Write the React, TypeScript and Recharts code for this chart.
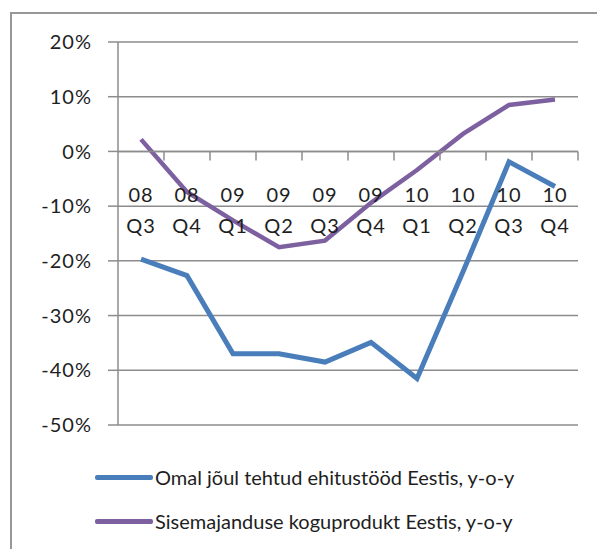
import { LineChart, Line, XAxis, YAxis, CartesianGrid, ReferenceLine } from "recharts";

const years = ["08", "08", "09", "09", "09", "09", "10", "10", "10", "10"];
const quarters = ["Q3", "Q4", "Q1", "Q2", "Q3", "Q4", "Q1", "Q2", "Q3", "Q4"];

// y-o-y change, %
const construction = [-19.7, -22.7, -37.0, -37.0, -38.5, -34.9, -41.5, -22.0, -1.9, -6.4];
const gdp = [2.2, -7.4, -12.6, -17.5, -16.3, -9.4, -3.4, 3.2, 8.5, 9.5];

const yTicks = [-50, -40, -30, -20, -10, 0, 10, 20];

const seriesNames = [
  "Omal jõul tehtud ehitustööd Eestis, y-o-y",
  "Sisemajanduse koguprodukt Eestis, y-o-y",
];
const seriesColors = ["#4a7ebb", "#7d60a0"];

const data = years.map((y, i) => ({
  period: `${y} ${quarters[i]}`,
  construction: construction[i],
  gdp: gdp[i],
}));

const FONT = "Lato, 'Open Sans', sans-serif";
const GRID = "#8c8c8c";
const TEXT = "#1e1e1e";

// category axis drawn along the 0% line, with marks between categories
const ZeroAxis = (props: any) => {
  const { x1, y1, x2 } = props;
  const step = (x2 - x1) / years.length;
  return (
    <g>
      <line x1={x1} y1={y1} x2={x2} y2={y1} stroke={GRID} strokeWidth={1.5} />
      {years.map((_, i) => (
        <line
          key={`t${i}`}
          x1={x1 + step * (i + 1)}
          y1={y1}
          x2={x1 + step * (i + 1)}
          y2={y1 + 9}
          stroke={GRID}
          strokeWidth={1.5}
        />
      ))}
      {years.map((yr, i) => (
        <text
          key={`l${i}`}
          x={x1 + step * (i + 0.5)}
          textAnchor="middle"
          fontFamily={FONT}
          fontSize={20}
          letterSpacing={1}
          fill={TEXT}
        >
          <tspan x={x1 + step * (i + 0.5)} y={y1 + 50.5}>
            {yr}
          </tspan>
          <tspan x={x1 + step * (i + 0.5)} y={y1 + 82}>
            {quarters[i]}
          </tspan>
        </text>
      ))}
    </g>
  );
};

export default function App() {
  return (
    <div
      style={{
        position: "absolute",
        left: 0,
        top: 0,
        width: 597,
        height: 549,
        background: "#fff",
        overflow: "hidden",
      }}
    >
      <div
        style={{
          position: "absolute",
          left: 10,
          top: 12,
          right: 0,
          bottom: 0,
          borderLeft: "2px solid #979797",
          borderTop: "2px solid #979797",
        }}
      />
      <LineChart
        width={597}
        height={549}
        data={data}
        margin={{ top: 42, right: 19, left: 48, bottom: 124 }}
      >
        <CartesianGrid vertical={false} stroke={GRID} strokeWidth={1.5} />
        <XAxis dataKey="period" scale="band" hide />
        <YAxis
          width={70}
          domain={[-50, 20]}
          ticks={yTicks}
          interval={0}
          tickFormatter={(v: number) => `${v}%`}
          tickSize={10}
          tickMargin={16}
          axisLine={{ stroke: GRID, strokeWidth: 1.5 }}
          tickLine={{ stroke: GRID, strokeWidth: 1.5 }}
          tick={{ fontFamily: FONT, fontSize: 20, fill: TEXT, letterSpacing: 1 }}
        />
        <Line
          dataKey="construction"
          stroke={seriesColors[0]}
          strokeWidth={5}
          dot={false}
          isAnimationActive={false}
        />
        <Line
          dataKey="gdp"
          stroke={seriesColors[1]}
          strokeWidth={4.5}
          dot={false}
          isAnimationActive={false}
        />
        <ReferenceLine y={0} shape={ZeroAxis} />
      </LineChart>
      {seriesNames.map((name, i) => (
        <div
          key={name}
          style={{
            position: "absolute",
            left: 95,
            top: 465 + i * 44,
            height: 24,
            display: "flex",
            alignItems: "center",
            fontFamily: FONT,
            fontSize: 20,
            color: TEXT,
            whiteSpace: "nowrap",
          }}
        >
          <span
            style={{
              display: "inline-block",
              width: 58,
              height: 5,
              borderRadius: 2,
              background: seriesColors[i],
              marginRight: 2,
            }}
          />
          {name}
        </div>
      ))}
    </div>
  );
}
